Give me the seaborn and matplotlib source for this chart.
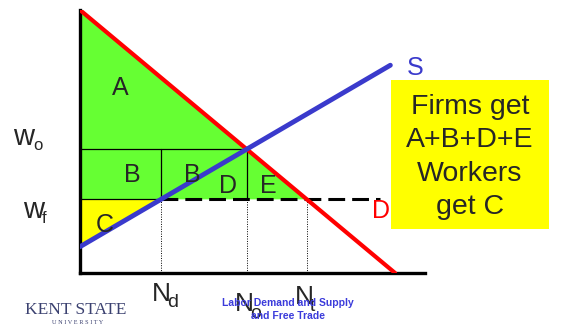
import numpy as np
import pandas as pd
import matplotlib
matplotlib.use("Agg")
import matplotlib.pyplot as plt
from matplotlib.patches import Rectangle
import seaborn as sns

# curves (labour N on x, wage w on y)
demand_N = [0, 10]
demand_w = [10, 0]
supply_N = [0, 9.85]
supply_w = [1.0, 7.9]

# market levels
w_o = 4.7      # closed economy wage
w_f = 2.8      # free trade wage
N_d = 2.57
N_o = 5.3
N_t = 7.2
dash_end = 9.52

area_labels = ["A", "B", "B", "D", "E", "C"]
area_N = [1.27, 1.65, 3.56, 4.70, 5.97, 0.79]
area_w = [6.77, 3.46, 3.46, 3.04, 3.04, 1.56]

box_lines = ["Firms get", "A+B+D+E", "Workers", "get C"]

sns.set_style("white")
plt.rcParams['font.family'] = ['Liberation Sans', 'DejaVu Sans']

fig = plt.figure(figsize=(5.62, 3.26), dpi=100)
ax = fig.add_axes([80/562, 53/326, 345/562, 263/326])
ax.set_xlim(0, 10.95)
ax.set_ylim(0, 10.0)

# shaded areas
ax.fill([0, N_t, 0], [demand_w[0], w_f, w_f], color="#66ff33", zorder=1, lw=0)
ax.fill([0, 0, N_d], [supply_w[0], w_f, w_f], color="#ffff00", zorder=1, lw=0)

# thin division lines
ax.plot([0, N_o], [w_o, w_o], color="black", lw=0.9, zorder=2)
ax.plot([0, N_d], [w_f, w_f], color="black", lw=0.9, zorder=2)
ax.plot([N_d, N_d], [w_f, w_o], color="black", lw=0.9, zorder=2)
ax.plot([N_o, N_o], [w_f, w_o], color="black", lw=0.9, zorder=2)
for n in [N_d, N_o, N_t]:
    ax.plot([n, n], [0, w_f], color="black", lw=0.7, ls=(0, (1, 1.5)), zorder=2)
ax.plot([N_d, dash_end], [w_f, w_f], color="black", lw=2.2, dashes=(5.5, 2.3), zorder=3)

lines = pd.DataFrame({
    "N": demand_N + supply_N,
    "w": demand_w + supply_w,
    "curve": ["D", "D", "S", "S"],
})
sns.lineplot(data=lines[lines.curve == "D"], x="N", y="w", color="#ff0000", lw=3.0,
             ax=ax, zorder=4, sort=False)
sns.lineplot(data=lines[lines.curve == "S"], x="N", y="w", color="#3a3acc", lw=3.5,
             ax=ax, zorder=5, sort=False)
ax.set_xlabel("")
ax.set_ylabel("")

for lab, n, w in zip(area_labels, area_N, area_w):
    ax.text(n, w, lab, fontsize=18, ha="center", va="baseline", zorder=6)

ax.text(10.63, 7.53, "S", fontsize=18, color="#3a3acc", ha="center", va="baseline", clip_on=False)
ax.text(9.56, 2.09, "D", fontsize=18, color="#ff0000", ha="center", va="baseline", clip_on=False, zorder=6)

# wage labels
ax.text(-2.13, 4.87, "w", fontsize=21, ha="left", va="baseline", clip_on=False)
ax.text(-1.49, 4.68, "o", fontsize=12, ha="left", va="baseline", clip_on=False)
ax.text(-1.81, 2.09, "w", fontsize=21, ha="left", va="baseline", clip_on=False)
ax.text(-1.20, 1.90, "f", fontsize=12, ha="left", va="baseline", clip_on=False)

# employment labels
for main_x, main_y, sub, sub_x, sub_y in [(2.29, -1.07, "d", 2.76, -1.30),
                                          (4.92, -1.45, "o", 5.40, -1.71),
                                          (6.83, -1.18, "t", 7.29, -1.45)]:
    ax.text(main_x, main_y, "N", fontsize=19, ha="left", va="baseline", clip_on=False, zorder=10)
    ax.text(sub_x, sub_y, sub, fontsize=14, ha="left", va="baseline", clip_on=False, zorder=10)

ax.set_xticks([])
ax.set_yticks([])
sns.despine(ax=ax)
for side in ["left", "bottom"]:
    ax.spines[side].set_color("black")
    ax.spines[side].set_linewidth(2.4)

# yellow note box
fig.patches.append(Rectangle((391/562, 1 - 229/326), 158/562, 149/326,
                             transform=fig.transFigure, facecolor="#ffff00",
                             edgecolor="none", zorder=1))
fig.text(470/562, 1 - 157/326, "\n".join(box_lines), fontsize=20.5, ha="center",
         va="center", linespacing=1.36, zorder=2)

# footer
fig.text(288/562, 1 - 303/326, "Labor Demand and Supply", fontsize=7.5, fontweight="bold",
         color="#3b3bdb", ha="center", va="center", zorder=1)
fig.text(288/562, 1 - 316/326, "and Free Trade", fontsize=7.5, fontweight="bold",
         color="#3b3bdb", ha="center", va="center", zorder=1)
fig.text(76/562, 1 - 310/326, "KENT STATE", fontsize=12.5, family="Liberation Serif",
         color="#3b4170", ha="center", va="center")
fig.text(78/562, 1 - 322/326, "U N I V E R S I T Y", fontsize=4.5, family="Liberation Serif",
         color="#3b4170", ha="center", va="center")

fig.savefig("out.png", dpi=100)
